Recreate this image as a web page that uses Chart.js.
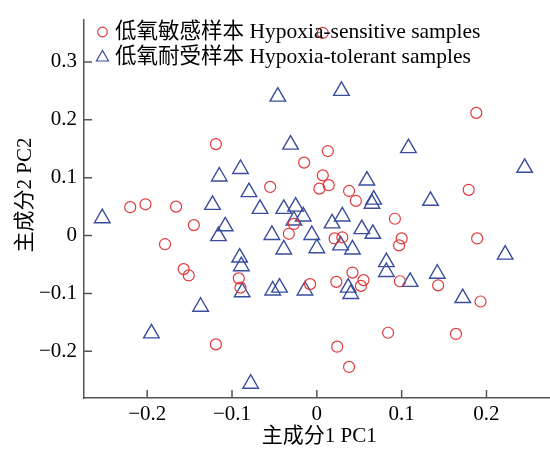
<!DOCTYPE html>
<html>
<head>
<meta charset="utf-8">
<script src="https://cdn.jsdelivr.net/npm/chart.js@4.4.1/dist/chart.umd.min.js"></script>
<style>
html,body{margin:0;padding:0;overflow:hidden;background:#fff;}
#wrap{width:565px;height:450px;}
</style>
</head>
<body>
<div id="wrap"><canvas id="c" width="565" height="450"></canvas></div>
<script>
const seriesNames = ['低氧敏感样本 Hypoxia-sensitive samples', '低氧耐受样本 Hypoxia-tolerant samples'];

const sensitivePC1 = [0.007, 0.188, -0.119, 0.013, -0.015, 0.007, 0.014, 0.003, -0.055, 0.038,
  0.179, 0.046, -0.220, -0.202, -0.166, 0.092, -0.027, -0.145, -0.033, 0.021,
  0.030, 0.100, 0.097, 0.189, -0.179, -0.157, -0.151, -0.092, -0.090, 0.042,
  -0.008, 0.023, 0.055, 0.052, 0.098, 0.143, 0.193, 0.084, 0.164, 0.024,
  -0.119, 0.038];
const sensitivePC2 = [0.350, 0.212, 0.158, 0.146, 0.126, 0.104, 0.087, 0.081, 0.084, 0.077,
  0.079, 0.060, 0.049, 0.054, 0.050, 0.029, 0.020, 0.018, 0.003, -0.005,
  -0.003, -0.005, -0.017, -0.005, -0.015, -0.058, -0.069, -0.074, -0.090, -0.064,
  -0.084, -0.080, -0.077, -0.087, -0.079, -0.086, -0.114, -0.168, -0.170, -0.192,
  -0.188, -0.227];

const tolerantPC1 = [-0.046, 0.029, -0.031, 0.108, 0.245, -0.090, -0.115, 0.059, -0.080, -0.123,
  -0.067, -0.039, -0.025, -0.027, -0.016, 0.067, 0.065, 0.134, -0.253, -0.108,
  -0.116, -0.053, -0.006, 0.018, 0.030, 0.053, 0.066, -0.039, 0.000, 0.028,
  0.042, 0.222, -0.091, -0.089, 0.082, 0.082, 0.142, 0.110, -0.052, -0.044,
  -0.014, -0.088, 0.037, 0.040, 0.172, -0.137, -0.195, -0.078];
const tolerantPC2 = [0.240, 0.250, 0.157, 0.151, 0.117, 0.115, 0.102, 0.095, 0.075, 0.053,
  0.046, 0.046, 0.050, 0.026, 0.033, 0.062, 0.055, 0.060, 0.030, 0.016,
  -0.001, 0.001, 0.001, 0.021, 0.033, 0.011, 0.003, -0.024, -0.022, -0.017,
  -0.024, -0.033, -0.038, -0.053, -0.046, -0.063, -0.066, -0.080, -0.095, -0.090,
  -0.095, -0.098, -0.090, -0.101, -0.108, -0.123, -0.169, -0.256];

const xTickValues = [-0.2, -0.1, 0, 0.1, 0.2];
const xTickLabels = ['\u22120.2', '\u22120.1', '0', '0.1', '0.2'];
const yTickValues = [-0.2, -0.1, 0, 0.1, 0.2, 0.3];
const yTickLabels = ['\u22120.2', '\u22120.1', '0', '0.1', '0.2', '0.3'];
const xTitle = '主成分1 PC1';
const yTitle = '主成分2 PC2';

const FONT = "'Liberation Serif', 'Noto Sans CJK SC', serif";
const AXIS = '#555555';
const RED = '#e0393c';
const BLUE = '#3a4d9c';
const TEXT = '#000000';

const toPoints = (xs, ys) => xs.map((v, i) => ({ x: v, y: ys[i] }));

const inwardTicks = {
  id: 'inwardTicks',
  afterDraw(chart) {
    const { ctx, chartArea: a, scales: { x, y } } = chart;
    ctx.save();
    ctx.strokeStyle = AXIS;
    ctx.lineWidth = 1.5;
    ctx.beginPath();
    x.ticks.forEach(t => {
      const px = x.getPixelForValue(t.value);
      ctx.moveTo(px, a.bottom);
      ctx.lineTo(px, a.bottom - 8);
    });
    y.ticks.forEach(t => {
      const py = y.getPixelForValue(t.value);
      ctx.moveTo(a.left, py);
      ctx.lineTo(a.left + 8, py);
    });
    ctx.stroke();
    // y-axis title, placed beside the axis
    ctx.fillStyle = TEXT;
    ctx.font = '21px ' + FONT;
    ctx.textAlign = 'center';
    ctx.textBaseline = 'middle';
    ctx.translate(25, 195);
    ctx.rotate(-Math.PI / 2);
    ctx.fillText(yTitle, 0, 0);
    ctx.restore();
  }
};

const insideLegend = {
  id: 'insideLegend',
  afterDraw(chart) {
    const ctx = chart.ctx;
    const rows = [
      { style: 'circle', radius: 4.8, color: RED, y: 32, my: 32 },
      { style: 'triangle', radius: 7, color: BLUE, y: 57, my: 57.5 }
    ];
    ctx.save();
    rows.forEach((r, i) => {
      ctx.strokeStyle = r.color;
      ctx.fillStyle = 'rgba(0,0,0,0)';
      ctx.lineWidth = 1.2;
      Chart.helpers.drawPoint(ctx, { pointStyle: r.style, radius: r.radius, rotation: 0, borderWidth: 1.2 }, 102.5, r.my);
      ctx.fillStyle = TEXT;
      ctx.font = '21.5px ' + FONT;
      ctx.textBaseline = 'middle';
      ctx.textAlign = 'left';
      ctx.fillText(chart.data.datasets[i].label, 115, r.y);
    });
    ctx.restore();
  }
};

new Chart(document.getElementById('c'), {
  type: 'scatter',
  data: {
    datasets: [
      {
        label: seriesNames[0],
        data: toPoints(sensitivePC1, sensitivePC2),
        pointStyle: 'circle',
        pointRadius: 5.5,
        borderColor: RED,
        backgroundColor: 'rgba(0,0,0,0)',
        borderWidth: 1.2
      },
      {
        label: seriesNames[1],
        data: toPoints(tolerantPC1, tolerantPC2),
        pointStyle: 'triangle',
        pointRadius: 9,
        borderColor: BLUE,
        backgroundColor: 'rgba(0,0,0,0)',
        borderWidth: 1.4
      }
    ]
  },
  options: {
    responsive: false,
    animation: false,
    events: [],
    layout: { padding: { top: 9, left: 0, right: 0, bottom: 0 } },
    plugins: { legend: { display: false }, tooltip: { enabled: false } },
    scales: {
      x: {
        type: 'linear',
        min: -0.2745,
        max: 0.2803,
        afterBuildTicks: s => { s.ticks = xTickValues.map(v => ({ value: v })); },
        afterFit: s => { s.height = 52; },
        grid: { display: true, drawOnChartArea: false, drawTicks: false },
        border: { display: true, color: AXIS, width: 1.5 },
        ticks: {
          padding: 4,
          color: TEXT,
          font: { family: FONT, size: 21 },
          maxRotation: 0,
          callback: (v, i) => xTickLabels[i]
        },
        title: {
          display: true,
          text: xTitle,
          color: TEXT,
          font: { family: FONT, size: 21 },
          padding: { top: 0, bottom: 1 }
        }
      },
      y: {
        type: 'linear',
        min: -0.2807,
        max: 0.3731,
        afterBuildTicks: s => { s.ticks = yTickValues.map(v => ({ value: v })); },
        afterFit: s => { s.width = 84; },
        grid: { display: true, drawOnChartArea: false, drawTicks: false },
        border: { display: true, color: AXIS, width: 1.5 },
        ticks: {
          padding: 7,
          color: TEXT,
          font: { family: FONT, size: 21 },
          callback: (v, i) => yTickLabels[i]
        },
        title: { display: false, text: yTitle }
      }
    }
  },
  plugins: [inwardTicks, insideLegend]
});
</script>
</body>
</html>
